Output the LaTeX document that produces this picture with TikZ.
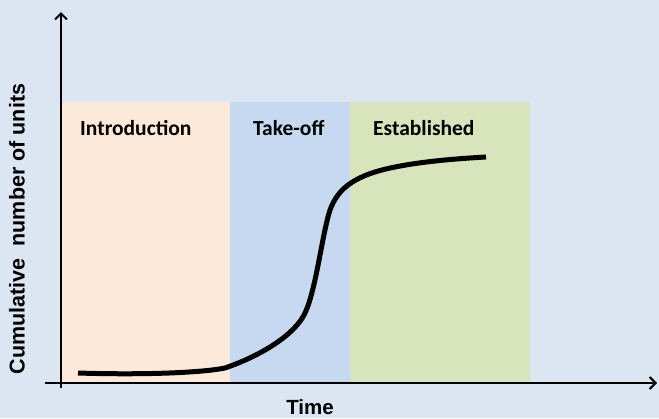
\documentclass[tikz,border=0pt]{standalone}
\usepackage{fontspec}
\setmainfont{Carlito}
\newfontfamily\arialfont{Liberation Sans}
\usetikzlibrary{arrows.meta}
\definecolor{bg}{HTML}{DCE6F2}
\definecolor{intro}{HTML}{FDE9D9}
\definecolor{takeoff}{HTML}{C6D9F1}
\definecolor{estab}{HTML}{D7E4BC}
\tikzset{
  lbl/.style={font=\fontsize{21.5}{24}\selectfont\bfseries, text=black, inner sep=0pt},
  axlbl/.style={font=\arialfont\fontsize{20.5}{24}\selectfont\bfseries, text=black, inner sep=0pt},
  axis/.style={line width=2.2pt, -{Straight Barb[length=6pt,width=12pt,line width=2pt]}},
}
\begin{document}
\begin{tikzpicture}[x=1pt,y=-1pt]
\useasboundingbox (0,0) rectangle (659,418);
\fill[bg] (0,0) rectangle (659,418);
\fill[intro] (62,102) rectangle (230,383);
\fill[takeoff] (230,102) rectangle (350,383);
\fill[estab] (350,102) rectangle (530,383);
\node[lbl, anchor=west] (intro) at (80,128) {Introduction};
\node[lbl, anchor=west] (take) at (253,128) {Take-off};
\node[lbl, anchor=west] (est) at (373,128) {Established};
\draw[line width=5pt, line cap=butt] (78,373) .. controls (140,375) and (200,373) .. (225,368)
  .. controls (260,356) and (295,335) .. (305,313)
  .. controls (316,290) and (322,235) .. (330,210)
  .. controls (338,188) and (355,175) .. (395,167)
  .. controls (420,162) and (450,159) .. (486,157);
\draw[axis] (61,388) -- (61,12);
\draw[axis] (45,383) -- (657,383);
\node[axlbl, anchor=base] (time) at (310,414) {Time};
\node[axlbl, rotate=90, font=\arialfont\fontsize{21.5}{24}\selectfont\bfseries] (ylab) at (17,229) {Cumulative\ \ number of units};
\end{tikzpicture}
\end{document}
